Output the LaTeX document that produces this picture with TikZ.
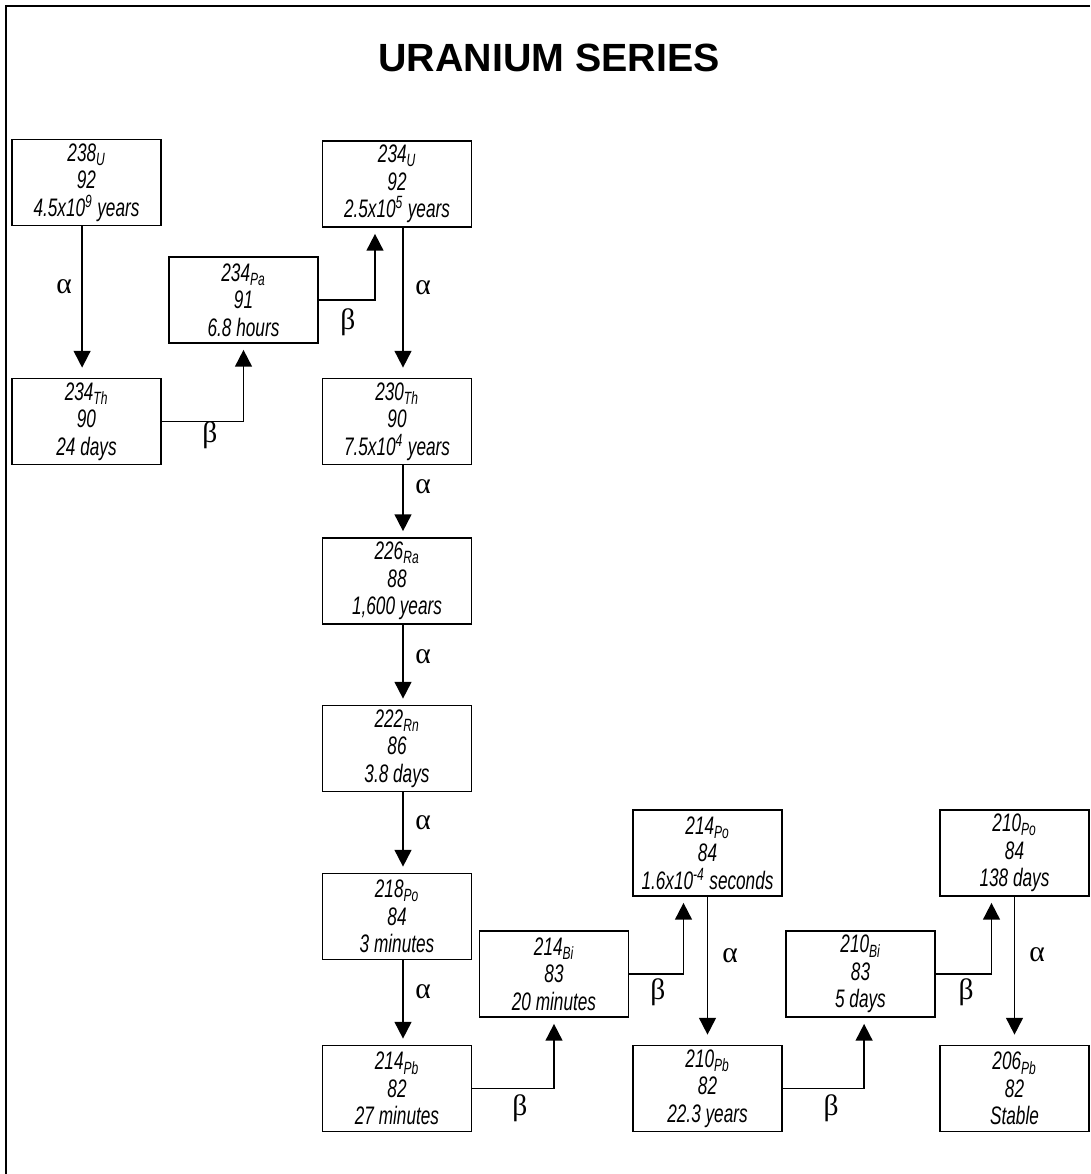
\documentclass[tikz,border=0pt]{standalone}
\usepackage{fontspec}
\setmainfont{Liberation Sans}
\newfontfamily\boxfont[FakeStretch=0.68]{Liberation Sans}
\newfontfamily\greekfont{Liberation Serif}
\usetikzlibrary{arrows.meta}

\begin{document}
\begin{tikzpicture}[x=0.025cm,y=-0.025cm,>={Triangle[length=0.42cm,width=0.42cm]},
    nuclide/.style={draw,line width=1.2pt,minimum width=3.725cm,minimum height=2.15cm,
      inner sep=0pt,align=center,font=\boxfont\itshape\fontsize{18}{19.5}\selectfont},
    decay/.style={->,line width=1.3pt,shorten >=0.15cm},
    ptype/.style={font=\greekfont\fontsize{21}{21}\selectfont}]

  \useasboundingbox (0,0) rectangle (1090,1174);

  % --- frame and title ---
  \draw[line width=1.6pt] (1090,6) -- (6,6) -- (6,1174);
  \node[font=\bfseries\fontsize{28}{28}\selectfont] (title) at (549,58) {URANIUM SERIES};

  % --- nuclides ---
  \node[nuclide] (u238)  at (86.5,182.5)  {238\textsubscript{U}\\92\\4.5x10\textsuperscript{9} years};
  \node[nuclide] (th234) at (86.5,421.5)  {234\textsubscript{Th}\\90\\24 days};
  \node[nuclide] (pa234) at (243.5,300)   {234\textsubscript{Pa}\\91\\6.8 hours};
  \node[nuclide] (u234)  at (397,184)     {234\textsubscript{U}\\92\\2.5x10\textsuperscript{5} years};
  \node[nuclide] (th230) at (397,421.5)   {230\textsubscript{Th}\\90\\7.5x10\textsuperscript{4} years};
  \node[nuclide] (ra226) at (397,581)     {226\textsubscript{Ra}\\88\\1,600 years};
  \node[nuclide] (rn222) at (397,748.5)   {222\textsubscript{Rn}\\86\\3.8 days};
  \node[nuclide] (po218) at (397,916.5)   {218\textsubscript{Po}\\84\\3 minutes};
  \node[nuclide] (pb214) at (397,1088.5)  {214\textsubscript{Pb}\\82\\27 minutes};
  \node[nuclide] (bi214) at (554,974)     {214\textsubscript{Bi}\\83\\20 minutes};
  \node[nuclide] (po214) at (707.5,853)   {214\textsubscript{Po}\\84\\1.6x10\textsuperscript{-4} seconds};
  \node[nuclide] (pb210) at (707.5,1088.5) {210\textsubscript{Pb}\\82\\22.3 years};
  \node[nuclide] (bi210) at (860.5,974)   {210\textsubscript{Bi}\\83\\5 days};
  \node[nuclide] (po210) at (1014.5,853)  {210\textsubscript{Po}\\84\\138 days};
  \node[nuclide] (pb206) at (1014.5,1088.5) {206\textsubscript{Pb}\\82\\Stable};

  % --- alpha decays ---
  \draw[decay,shorten >=0.25cm] ([xshift=-0.11cm]u238.south) -- ([xshift=-0.11cm]th234.north);
  \draw[decay,shorten >=0.25cm] ([xshift=0.15cm]u234.south) -- ([xshift=0.15cm]th230.north);
  \foreach \a/\b in {th230/ra226,ra226/rn222,rn222/po218,po218/pb214}
    \draw[decay] ([xshift=0.15cm]\a.south) -- ([xshift=0.15cm]\b.north);
  \draw[decay,shorten >=0.25cm] (po214.south) -- (pb210.north);
  \draw[decay,shorten >=0.25cm] (po210.south) -- (pb206.north);

  % --- beta decays ---
  \draw[decay] (th234.east) -| (pa234.south);
  \draw[decay] (pa234.east) -| ([xshift=-0.55cm]u234.south);
  \draw[decay] (pb214.east) -| (bi214.south);
  \draw[decay] (bi214.east) -| ([xshift=-0.6cm]po214.south);
  \draw[decay] (pb210.east) -| ([xshift=0.09cm]bi210.south);
  \draw[decay] (bi210.east) -| ([xshift=-0.575cm]po210.south);

  % --- labels ---
  \node[ptype] (a1) at (64,287)   {α};
  \node[ptype] (b1) at (210,435)  {β};
  \node[ptype] (b2) at (348,322)  {β};
  \node[ptype] (a2) at (423,288)  {α};
  \node[ptype] (a3) at (423,487)  {α};
  \node[ptype] (a4) at (423,657)  {α};
  \node[ptype] (a5) at (423,823)  {α};
  \node[ptype] (a6) at (423,992)  {α};
  \node[ptype] (b3) at (520,1108) {β};
  \node[ptype] (b4) at (658,992)  {β};
  \node[ptype] (a7) at (730,956)  {α};
  \node[ptype] (b5) at (831,1108) {β};
  \node[ptype] (b6) at (966,992)  {β};
  \node[ptype] (a8) at (1037,955) {α};

\end{tikzpicture}
\end{document}
